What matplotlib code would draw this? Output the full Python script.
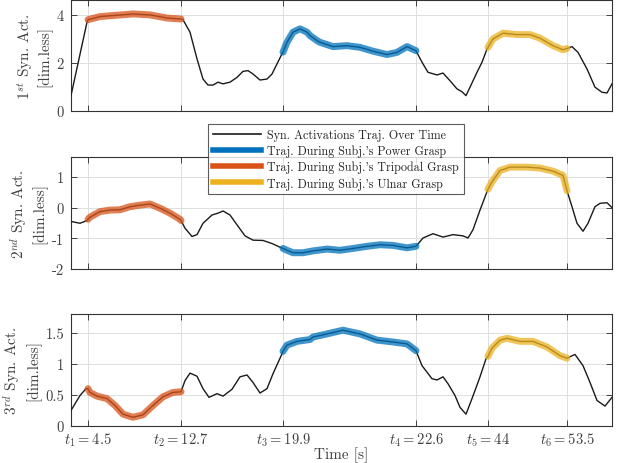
import matplotlib
matplotlib.use('Agg')
import matplotlib.pyplot as plt
from matplotlib.lines import Line2D
import numpy as np

plt.rcParams['font.family'] = ['cmr10', 'DejaVu Serif']
plt.rcParams['mathtext.fontset'] = 'cm'
plt.rcParams['axes.formatter.use_mathtext'] = True

# x positions are sample indices along the time axis
tick_pos = [17, 110, 212, 345, 417, 496]
tick_labels = [r'$t_1 = 4.5$', r'$t_2 = 12.7$', r'$t_3 = 19.9$',
               r'$t_4 = 22.6$', r'$t_5 = 44$', r'$t_6 = 53.5$']

seg_power = (212, 345)
seg_tripodal = (17, 110)
seg_ulnar = (417, 496)

x1 = [0, 16, 17, 29, 62, 79, 96, 109, 110, 112, 119, 126, 132, 137, 142, 147, 152, 159,
      166, 172, 177, 182, 189, 196, 201, 206, 211, 212, 216, 222, 229, 236, 239, 246, 249,
      262, 276, 289, 302, 316, 326, 336, 345, 351, 357, 366, 372, 379, 386, 391, 395, 399,
      406, 411, 416, 417, 422, 432, 446, 459, 469, 482, 492, 496, 501, 507, 516, 524, 531,
      536, 541]
y1 = [0.64, 3.7, 3.8, 3.93, 4.04, 4.0, 3.87, 3.83, 3.83, 3.8, 3.28, 2.17, 1.33, 1.08, 1.08,
      1.2, 1.13, 1.2, 1.4, 1.65, 1.68, 1.54, 1.29, 1.33, 1.54, 1.96, 2.38, 2.45, 2.86, 3.28,
      3.42, 3.28, 3.14, 2.93, 2.86, 2.68, 2.72, 2.65, 2.49, 2.35, 2.44, 2.68, 2.51, 2.03, 1.61,
      1.5, 1.58, 1.26, 0.92, 0.8, 0.64, 0.99, 1.61, 2.03, 2.58, 2.65, 3.0, 3.24, 3.18, 3.18,
      3.03, 2.72, 2.55, 2.6, 2.68, 2.44, 1.75, 0.99, 0.78, 0.75, 1.13]

x2 = [0, 9, 16, 17, 19, 29, 39, 49, 59, 69, 79, 89, 99, 109, 110, 114, 121, 126, 132, 141,
      147, 152, 159, 166, 174, 182, 192, 201, 209, 212, 216, 222, 232, 242, 256, 269, 282,
      296, 309, 322, 336, 345, 352, 362, 372, 382, 392, 397, 402, 409, 416, 417, 421, 429,
      439, 456, 469, 482, 492, 496, 501, 506, 512, 517, 524, 529, 536, 541]
y2 = [-0.45, -0.51, -0.42, -0.38, -0.31, -0.13, -0.08, -0.07, 0.03, 0.08, 0.12, -0.02, -0.18,
      -0.38, -0.42, -0.67, -0.94, -0.88, -0.51, -0.24, -0.18, -0.11, -0.24, -0.56, -0.92,
      -1.06, -1.07, -1.17, -1.29, -1.33, -1.39, -1.47, -1.47, -1.41, -1.35, -1.39, -1.33,
      -1.26, -1.21, -1.23, -1.31, -1.26, -0.99, -0.85, -0.96, -0.88, -0.92, -0.99, -0.72,
      -0.08, 0.52, 0.6, 0.84, 1.21, 1.32, 1.32, 1.29, 1.19, 1.05, 0.55, 0.03, -0.51, -0.77,
      -0.51, 0.03, 0.14, 0.16, 0.0]

x3 = [0, 9, 15, 17, 19, 26, 36, 44, 52, 62, 72, 82, 92, 102, 110, 114, 119, 126, 132, 138,
      146, 152, 161, 169, 176, 182, 189, 196, 202, 211, 212, 216, 226, 239, 242, 256, 272,
      289, 306, 322, 336, 345, 351, 361, 366, 372, 377, 384, 389, 395, 401, 409, 415, 417,
      421, 429, 436, 449, 462, 476, 489, 496, 504, 512, 519, 526, 534, 541]
y3 = [0.25, 0.49, 0.6, 0.6, 0.54, 0.48, 0.44, 0.33, 0.19, 0.14, 0.18, 0.33, 0.47, 0.54, 0.55,
      0.73, 0.85, 0.8, 0.6, 0.46, 0.52, 0.48, 0.59, 0.79, 0.82, 0.7, 0.53, 0.6, 0.84, 1.16,
      1.2, 1.3, 1.36, 1.39, 1.43, 1.48, 1.54, 1.48, 1.38, 1.35, 1.32, 1.21, 0.97, 0.76, 0.74,
      0.79, 0.68, 0.49, 0.3, 0.19, 0.44, 0.79, 1.08, 1.12, 1.25, 1.38, 1.41, 1.36, 1.36, 1.27,
      1.13, 1.09, 1.15, 0.97, 0.7, 0.41, 0.32, 0.46]

ylabels = [r'$1^{st}$ Syn. Act.' + '\n[dim.less]',
           r'$2^{nd}$ Syn. Act.' + '\n[dim.less]',
           r'$3^{rd}$ Syn. Act.' + '\n[dim.less]']
ylims = [(0, 4.62), (-2, 1.65), (0, 1.8)]
yticks = [[0, 2, 4], [-2, -1, 0, 1], [0, 0.5, 1, 1.5]]
yticklabels = [['0', '2', '4'], ['-2', '-1', '0', '1'], ['0', '0.5', '1', '1.5']]

legend_labels = ['Syn. Activations Traj. Over Time',
                 "Traj. During Subj.'s Power Grasp",
                 "Traj. During Subj.'s Tripodal Grasp",
                 "Traj. During Subj.'s Ulnar Grasp"]

c_blue = '#0072BD'
c_orange = '#D95319'
c_yellow = '#EDB120'
txt_gray = '#404040'

W, H = 619, 464
fig = plt.figure(figsize=(W / 100, H / 100), dpi=100)

panels = [(1, 112), (158, 270), (315, 427)]
L, R = 71, 612
data = [(x1, y1), (x2, y2), (x3, y3)]

for i, ((top, bot), (xs, ys)) in enumerate(zip(panels, data)):
    ax = fig.add_axes([L / W, 1 - bot / H, (R - L) / W, (bot - top) / H])
    xs = np.array(xs, dtype=float)
    ys = np.array(ys, dtype=float)
    ax.plot(xs, ys, color='#1a1a1a', lw=1.0, zorder=3)
    for (a, b), c in [(seg_power, c_blue), (seg_tripodal, c_orange), (seg_ulnar, c_yellow)]:
        m = (xs >= a) & (xs <= b)
        ax.plot(xs[m], ys[m], color=c, lw=5, alpha=0.75, solid_capstyle='round',
                solid_joinstyle='round', zorder=4)
    ax.set_xlim(0, 541)
    ax.set_ylim(*ylims[i])
    ax.set_yticks(yticks[i])
    ax.set_yticklabels(yticklabels[i])
    ax.set_xticks(tick_pos)
    if i == 2:
        ax.set_xticklabels(tick_labels)
        ax.set_xlabel('Time [s]', fontsize=11, color=txt_gray, labelpad=-1)
    else:
        ax.set_xticklabels([])
    ax.grid(True, color='#dedede', lw=0.7)
    ax.set_axisbelow(True)
    ax.tick_params(direction='in', length=4, width=0.7, top=True, right=True,
                   labelsize=10.5, colors=txt_gray)
    ax.tick_params(axis='x', pad=3)
    ax.tick_params(axis='y', pad=5)
    for sp in ax.spines.values():
        sp.set_color('#333333')
        sp.set_linewidth(0.8)
    ax.set_ylabel(ylabels[i], fontsize=11, color=txt_gray, labelpad=3)

handles = [Line2D([], [], color='#1a1a1a', lw=1.2),
           Line2D([], [], color=c_blue, lw=4),
           Line2D([], [], color=c_orange, lw=4),
           Line2D([], [], color=c_yellow, lw=4)]
leg = fig.legend(handles, legend_labels, loc='upper left',
                 bbox_to_anchor=(208 / W, 1 - 125 / H), fontsize=8.7,
                 frameon=True, fancybox=False, edgecolor='#333333',
                 handlelength=4.0, handletextpad=0.5, borderpad=0.4,
                 labelspacing=0.3, borderaxespad=0)
leg.get_frame().set_linewidth(0.8)
for t in leg.get_texts():
    t.set_color('#262626')
leg.set_zorder(10)

fig.savefig('out.png', dpi=100)
